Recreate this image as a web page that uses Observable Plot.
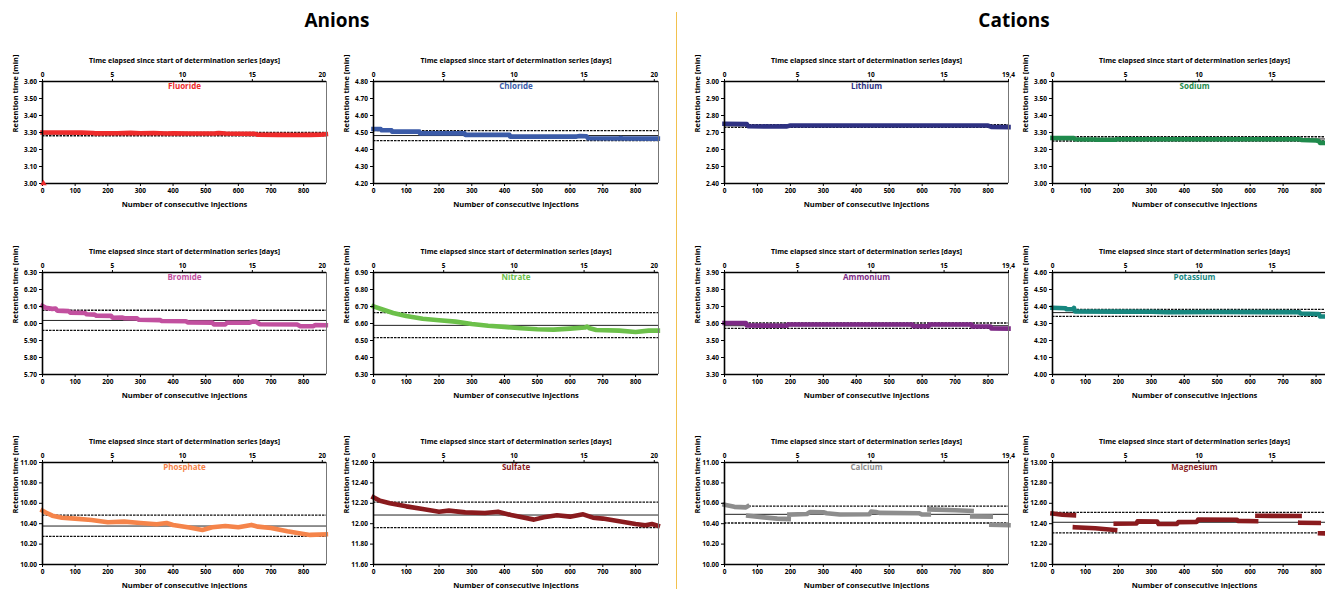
<!DOCTYPE html>
<html><head><meta charset="utf-8">
<script src="https://cdn.jsdelivr.net/npm/d3@7"></script>
<script src="https://cdn.jsdelivr.net/npm/@observablehq/plot@0.6"></script>
<style>
html,body{margin:0;padding:0;background:#fff;width:1325px;height:589px;overflow:hidden;font-family:"Open Sans",sans-serif;}
#root{position:relative;width:1325px;height:589px;overflow:hidden;}
.group-title{position:absolute;top:7px;font-size:19px;font-weight:bold;line-height:26px;transform:translateX(-50%);color:#000;white-space:nowrap;}
.sep{position:absolute;left:676px;top:12px;width:1px;height:577px;background:#f2c14e;}
.panel{position:absolute;}
.panel svg{overflow:visible;max-width:none !important;}
</style></head><body><div id="root"></div>
<script>
// ---------- DATA ----------
// each series: list of segments, each segment a list of [injection number, retention time (min)]
const fluoride = [[[0,3.300],[60,3.300],[120,3.299],[155,3.297],[160,3.295],[230,3.296],[270,3.298],[300,3.296],[340,3.297],[380,3.294],[400,3.295],[450,3.294],[530,3.295],[540,3.297],[560,3.294],[650,3.292],[660,3.287],[720,3.286],[780,3.285],[820,3.286],[850,3.287],[868,3.290]]];
const fluorideOutlier = [[3,3.00]];
const chloride = [[[0,4.521],[22,4.521],[24,4.513],[55,4.513],[57,4.505],[140,4.505],[142,4.495],[278,4.495],[280,4.486],[415,4.486],[417,4.476],[620,4.476],[630,4.479],[650,4.478],[655,4.466],[750,4.465],[755,4.468],[760,4.465],[868,4.464]]];
const lithium = [[[0,2.751],[68,2.749],[72,2.737],[140,2.735],[190,2.736],[200,2.741],[500,2.741],[800,2.741],[810,2.733],[862,2.732]]];
const sodium = [[[0,3.268],[65,3.267],[68,3.260],[130,3.259],[135,3.257],[190,3.257],[195,3.260],[750,3.260],[755,3.256],[800,3.253],[808,3.250],[812,3.239],[870,3.238]]];
const bromide = [[[0,6.103],[10,6.092],[30,6.086],[40,6.088],[45,6.076],[80,6.073],[85,6.064],[130,6.062],[135,6.054],[160,6.052],[165,6.046],[210,6.045],[215,6.034],[245,6.035],[250,6.031],[290,6.030],[295,6.022],[360,6.020],[365,6.015],[440,6.013],[445,6.006],[520,6.005],[525,5.995],[560,5.995],[565,6.004],[635,6.005],[645,6.012],[655,6.010],[665,5.996],[780,5.994],[790,5.984],[830,5.984],[835,5.991],[868,5.990]]];
const nitrate = [[[0,6.701],[30,6.681],[60,6.662],[100,6.644],[150,6.628],[200,6.619],[250,6.611],[300,6.597],[350,6.587],[400,6.580],[450,6.572],[500,6.566],[550,6.564],[600,6.570],[645,6.576],[652,6.582],[660,6.572],[680,6.562],[750,6.558],[800,6.550],[840,6.558],[868,6.558]]];
const ammonium = [[[0,3.603],[65,3.602],[68,3.588],[190,3.587],[192,3.594],[570,3.594],[572,3.584],[620,3.584],[622,3.594],[750,3.594],[752,3.583],[808,3.582],[810,3.571],[862,3.570]]];
const potassium = [[[0,4.392],[40,4.390],[42,4.384],[62,4.385],[65,4.392],[68,4.371],[200,4.370],[300,4.369],[350,4.366],[500,4.368],[700,4.367],[750,4.366],[752,4.359],[808,4.356],[812,4.342],[870,4.340]]];
const phosphate = [[[0,10.528],[10,10.510],[30,10.479],[60,10.459],[100,10.450],[150,10.436],[200,10.414],[250,10.420],[300,10.407],[350,10.394],[380,10.407],[400,10.388],[450,10.362],[490,10.339],[520,10.365],[560,10.378],[600,10.365],[640,10.388],[660,10.371],[700,10.358],[750,10.326],[800,10.300],[820,10.290],[868,10.296]]];
const sulfate = [[[0,12.258],[20,12.225],[50,12.200],[100,12.170],[150,12.144],[200,12.118],[230,12.128],[280,12.111],[340,12.105],[380,12.118],[420,12.085],[490,12.040],[520,12.063],[560,12.082],[600,12.069],[640,12.092],[670,12.059],[700,12.050],[750,12.023],[800,11.997],[830,11.984],[850,11.997],[868,11.980]]];
const calcium = [
  [[0,10.585],[30,10.565],[65,10.560],[70,10.570]],
  [[72,10.478],[120,10.462],[160,10.450],[195,10.446]],
  [[197,10.490],[250,10.495],[260,10.515],[300,10.512],[310,10.502],[350,10.490],[440,10.492],[445,10.518],[460,10.515],[470,10.506],[590,10.503],[600,10.490],[620,10.490]],
  [[622,10.540],[700,10.532],[750,10.525]],
  [[752,10.472],[808,10.470]],
  [[810,10.390],[862,10.385]]
];
const magnesium = [
  [[0,12.500],[30,12.488],[65,12.483]],
  [[68,12.365],[130,12.355],[190,12.338]],
  [[192,12.400],[255,12.402],[258,12.423],[318,12.420],[322,12.397],[378,12.398],[382,12.415],[438,12.417],[442,12.440],[560,12.438],[562,12.428],[618,12.425]],
  [[622,12.478],[750,12.475]],
  [[752,12.410],[808,12.407]],
  [[812,12.306],[870,12.302]]
];

const panelNames = ["Fluoride","Chloride","Lithium","Sodium","Bromide","Nitrate","Ammonium","Potassium","Phosphate","Sulfate","Calcium","Magnesium"];
const panelSeries = [fluoride,chloride,lithium,sodium,bromide,nitrate,ammonium,potassium,phosphate,sulfate,calcium,magnesium];
const panelGroups = ["anion","anion","cation","cation","anion","anion","cation","cation","anion","anion","cation","cation"];
const yDomains = [[3.0,3.6],[4.2,4.8],[2.4,3.0],[3.0,3.6],[5.7,6.3],[6.3,6.9],[3.3,3.9],[4.0,4.6],[10.0,11.0],[11.6,12.6],[10.0,11.0],[12.0,13.0]];
const yTickCounts = [6,6,6,6,6,6,6,6,5,5,5,5];
const upperLimits = [3.300,4.511,2.746,3.275,6.078,6.664,3.603,4.383,10.485,12.212,10.573,12.511];
const meanValues  = [3.291,4.482,2.739,3.262,6.018,6.589,3.587,4.364,10.377,12.085,10.492,12.414];
const lowerLimits = [3.281,4.452,2.730,3.250,5.959,6.517,3.571,4.342,10.276,11.962,10.407,12.310];
const injectionTicks = [0,100,200,300,400,500,600,700,800];
const anionDayTicks = [0,5,10,15,20];
const anionDayLabels = ["0","5","10","15","20"];
const cationDayTicks = [0,5,10,15,19.4];
const cationDayLabels = ["0","5","10","15","19,4"];
const groupExtent = {anion:{inj:870, days:20.3}, cation:{inj:862, days:19.4}};
const groupTitles = ["Anions","Cations"];

// ---------- STYLE / LAYOUT ----------
const colors = ["#ee2b2b","#3b5ba8","#2e3182","#1f8a4c","#c2509f","#6cc04a","#7d2a86","#17877f","#f5844a","#8a1b1e","#8d8d8d","#8a1b1e"];
const colLeft = [41.7,372.7,723.7,1051.7];
const colWidth = [284,285,284,284];
const rowTop = [81,271.5,461.5];
const plotH = 102;
const pageW = 1325;
const mL=42, mR=16, mT=32, mB=32;
const font = "'Open Sans', sans-serif";

const root = document.getElementById("root");
[[337,groupTitles[0]],[1014,groupTitles[1]]].forEach(([cx,t])=>{
  const d=document.createElement("div"); d.className="group-title"; d.style.left=cx+"px"; d.textContent=t; root.appendChild(d);
});
const sep=document.createElement("div"); sep.className="sep"; root.appendChild(sep);

panelNames.forEach((name,i)=>{
  const row=Math.floor(i/4), col=i%4;
  const g=groupExtent[panelGroups[i]];
  const perDay=g.inj/g.days;
  const w=colWidth[col];
  const allTicks = panelGroups[i]==="anion"?anionDayTicks:cationDayTicks;
  const allLabels = panelGroups[i]==="anion"?anionDayLabels:cationDayLabels;
  // the page edge cuts the last panel column: keep only day ticks that fall inside the page
  const visible = allTicks.map(t=>colLeft[col]+t*perDay/g.inj*w < pageW-8);
  const dTicks = allTicks.filter((t,k)=>visible[k]);
  const dLabels = allLabels.filter((t,k)=>visible[k]);
  const [y0,y1]=yDomains[i];
  const n=yTickCounts[i];
  const yTicks=d3.range(n+1).map(k=>+(y0+(y1-y0)*k/n).toFixed(4));
  const table=panelSeries[i].flatMap((seg,s)=>seg.map(([x,y])=>({x,y,seg:s})));
  const color=colors[i];
  const marks=[
    Plot.ruleY([meanValues[i]],{stroke:"#222",strokeWidth:1}),
    Plot.ruleY([upperLimits[i],lowerLimits[i]],{stroke:"#111",strokeWidth:1.3,strokeDasharray:"2.5,1"}),
    Plot.line(table,{x:"x",y:"y",z:"seg",stroke:color,strokeWidth:4.6,strokeLinecap:"square",strokeLinejoin:"round"}),
    Plot.ruleX([0],{stroke:"#000",strokeWidth:1.6}),
    Plot.ruleX([g.inj],{stroke:"#777",strokeWidth:1}),
    Plot.ruleY([y0],{stroke:"#000",strokeWidth:1.6}),
    Plot.ruleY([y1],{stroke:"#000",strokeWidth:1.6}),
    Plot.axisX(injectionTicks,{anchor:"bottom",tickSize:3,tickPadding:2,fontSize:6.5,fontWeight:"bold",label:null}),
    Plot.axisX(dTicks.map(d=>d*perDay),{anchor:"top",tickSize:3,tickPadding:2,fontSize:6.5,fontWeight:"bold",label:null,
      tickFormat:v=>dLabels[dTicks.findIndex(t=>Math.abs(t*perDay-v)<1e-6)]}),
    Plot.axisY(yTicks,{anchor:"left",tickSize:3,tickPadding:2.5,fontSize:6.5,fontWeight:"bold",label:null,tickFormat:d3.format(".2f")}),
    Plot.text(["Number of consecutive injections"],{frameAnchor:"bottom",lineAnchor:"middle",dy:21,fontSize:7.5,fontWeight:"bold",fill:"#000"}),
    Plot.text(["Time elapsed since start of determination series [days]"],{frameAnchor:"top",lineAnchor:"middle",dy:-21,fontSize:7,fontWeight:"bold",fill:"#000"}),
    Plot.text(["Retention time [min]"],{frameAnchor:"left",dx:-27,rotate:-90,fontSize:7.5,fontWeight:"bold",fill:"#000"}),
    Plot.text([name],{frameAnchor:"top",lineAnchor:"middle",dy:5,fontSize:8,fontWeight:"bold",fill:color})
  ];
  if(i===0) marks.push(Plot.dot(fluorideOutlier,{x:d=>d[0],y:d=>d[1],symbol:"triangle",r:2.4,fill:color,stroke:"none"}));
  const chart=Plot.plot({
    width:w+mL+mR, height:plotH+mT+mB,
    marginLeft:mL, marginRight:mR, marginTop:mT, marginBottom:mB,
    style:{fontFamily:font,background:"transparent",color:"#000",maxWidth:"none"},
    x:{domain:[0,g.inj]},
    y:{domain:[y0,y1]},
    marks
  });
  const div=document.createElement("div");
  div.className="panel";
  div.style.left=(colLeft[col]-mL)+"px";
  div.style.top=(rowTop[row]-mT)+"px";
  div.style.width=(w+mL+mR)+"px";
  div.appendChild(chart);
  root.appendChild(div);
});
</script></body></html>
